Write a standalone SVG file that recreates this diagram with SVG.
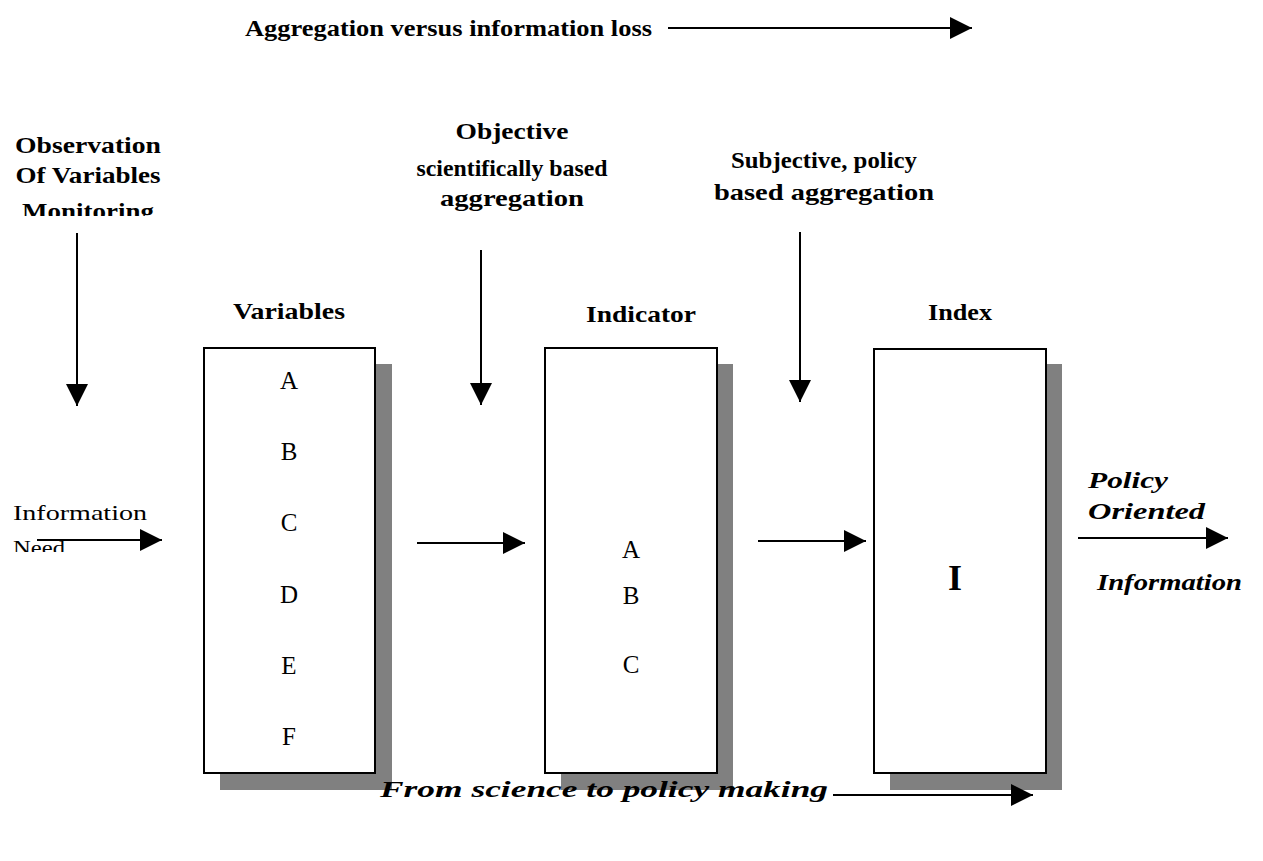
<svg xmlns="http://www.w3.org/2000/svg" width="1263" height="861" viewBox="0 0 1263 861">
<style>
text{font-family:"Liberation Serif","Times New Roman",serif;fill:#000}
.b{font-weight:bold;font-size:23px}
.bi{font-weight:bold;font-style:italic;font-size:23px}
.r{font-size:22px}
.l{font-size:25px}
.c{text-anchor:middle}
.box{fill:#fff;stroke:#000;stroke-width:2}
.sh{fill:#808080}
.ar{stroke:#000;stroke-width:2;fill:none;marker-end:url(#ah)}
</style>
<defs>
<marker id="ah" markerUnits="userSpaceOnUse" markerWidth="22" markerHeight="22" viewBox="0 0 20 20" refX="20" refY="10" orient="auto">
<path d="M0,0 L20,10 L0,20 Z" fill="#000"/>
</marker>
<clipPath id="clipMon"><rect x="0" y="190" width="200" height="26"/></clipPath>
<clipPath id="clipNeed"><rect x="0" y="530" width="200" height="22"/></clipPath>
</defs>
<rect width="1263" height="861" fill="#fff"/>

<g id="title-top">
<text class="b" x="245" y="36" textLength="407" lengthAdjust="spacingAndGlyphs">Aggregation versus information loss</text>
</g>
<g id="obs-label">
<text class="b c" x="88" y="153" textLength="146" lengthAdjust="spacingAndGlyphs">Observation</text>
<text class="b c" x="88" y="183" textLength="145" lengthAdjust="spacingAndGlyphs">Of Variables</text>
<text class="b c" x="88" y="219" clip-path="url(#clipMon)" textLength="132" lengthAdjust="spacingAndGlyphs">Monitoring</text>
</g>
<g id="obj-label">
<text class="b c" x="512" y="139" textLength="113" lengthAdjust="spacingAndGlyphs">Objective</text>
<text class="b c" x="512" y="176" textLength="191" lengthAdjust="spacingAndGlyphs">scientifically based</text>
<text class="b c" x="512" y="206" textLength="144" lengthAdjust="spacingAndGlyphs">aggregation</text>
</g>
<g id="subj-label">
<text class="b c" x="824" y="168" textLength="186" lengthAdjust="spacingAndGlyphs">Subjective, policy</text>
<text class="b c" x="824" y="200" textLength="220" lengthAdjust="spacingAndGlyphs">based aggregation</text>
</g>
<g id="info-need">
<text class="r" x="13" y="520" textLength="134" lengthAdjust="spacingAndGlyphs">Information</text>
<text class="r" x="13" y="555" clip-path="url(#clipNeed)" textLength="52" lengthAdjust="spacingAndGlyphs">Need</text>
</g>

<g id="variables">
<text class="b c" x="289" y="319" textLength="112" lengthAdjust="spacingAndGlyphs">Variables</text>
<rect class="sh" x="220" y="364" width="172" height="426"/>
<rect class="box" x="204" y="348" width="171" height="425"/>
<text class="l c" x="289" y="389">A</text>
<text class="l c" x="289" y="460">B</text>
<text class="l c" x="289" y="531">C</text>
<text class="l c" x="289" y="603">D</text>
<text class="l c" x="289" y="674">E</text>
<text class="l c" x="289" y="745">F</text>
</g>
<g id="indicator">
<text class="b c" x="641" y="322" textLength="110" lengthAdjust="spacingAndGlyphs">Indicator</text>
<rect class="sh" x="561" y="364" width="172" height="426"/>
<rect class="box" x="545" y="348" width="172" height="425"/>
<text class="l c" x="631" y="558">A</text>
<text class="l c" x="631" y="604">B</text>
<text class="l c" x="631" y="673">C</text>
</g>
<g id="index">
<text class="b c" x="960" y="320" textLength="64" lengthAdjust="spacingAndGlyphs">Index</text>
<rect class="sh" x="890" y="364" width="172" height="426"/>
<rect class="box" x="874" y="349" width="172" height="424"/>
<text class="c" x="955" y="590" style="font-size:36px;font-weight:bold">I</text>
</g>
<g id="policy-label">
<text class="bi" x="1088" y="488" textLength="80" lengthAdjust="spacingAndGlyphs">Policy</text>
<text class="bi" x="1088" y="519" textLength="117" lengthAdjust="spacingAndGlyphs">Oriented</text>
<text class="bi" x="1097" y="590" textLength="145" lengthAdjust="spacingAndGlyphs">Information</text>
</g>
<g id="bottom-label">
<text class="bi" x="380" y="797" textLength="448" lengthAdjust="spacingAndGlyphs">From science to policy making</text>
</g>

<g id="connectors">
<line class="ar" x1="668" y1="28" x2="972" y2="28"/>
<line class="ar" x1="77" y1="233" x2="77" y2="406"/>
<line class="ar" x1="481" y1="250" x2="481" y2="405"/>
<line class="ar" x1="800" y1="232" x2="800" y2="402"/>
<line class="ar" x1="37" y1="540" x2="162" y2="540"/>
<line class="ar" x1="417" y1="543" x2="525" y2="543"/>
<line class="ar" x1="758" y1="541" x2="866" y2="541"/>
<line class="ar" x1="1078" y1="538" x2="1228" y2="538"/>
<line class="ar" x1="833" y1="795" x2="1033" y2="795"/>
</g>
</svg>
